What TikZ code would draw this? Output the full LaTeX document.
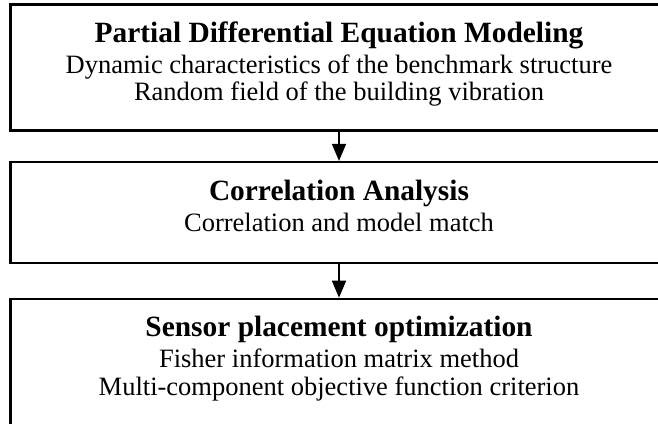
\documentclass[tikz,border=0pt]{standalone}
\usepackage{fontspec}
\setmainfont{Liberation Serif}
\usetikzlibrary{arrows.meta}
\begin{document}
\begin{tikzpicture}[x=1pt,y=1pt,
  boxst/.style={draw=black,line width=2.6pt,rectangle,inner sep=0pt,fill=none},
  ttl/.style={anchor=base,inner sep=0pt,font=\fontsize{29.4}{32}\selectfont\bfseries},
  txt/.style={anchor=base,inner sep=0pt,font=\fontsize{26.5}{30}\selectfont},
  arr/.style={line width=1.6pt,-{Triangle[width=14pt,length=17pt]}}]
\useasboundingbox (0,0) rectangle (658,423);
\clip (0,0) rectangle (658,423);
\fill[white] (0,0) rectangle (658,423);
% boxes (y = 423 - pixel row)
\node[boxst,minimum width=658pt,minimum height=125.5pt] (b1) at (339.5,355.5) {};
\node[boxst,minimum width=658pt,minimum height=101pt] (b2) at (339.5,210.3) {};
\node[boxst,minimum width=658pt,minimum height=200pt] (b3) at (339.5,24) {};
% texts
\node[ttl] (t1) at (339,380) {Partial Differential Equation Modeling};
\node[txt] (t1a) at (339,349.5) {Dynamic characteristics of the benchmark structure};
\node[txt] (t1b) at (339,322) {Random field of the building vibration};
\node[ttl] (t2) at (339,222.3) {Correlation Analysis};
\node[txt] (t2a) at (339,191.3) {Correlation and model match};
\node[ttl] (t3) at (339,86.3) {Sensor placement optimization};
\node[txt] (t3a) at (339,56) {Fisher information matrix method};
\node[txt] (t3b) at (339,28) {Multi-component objective function criterion};
% arrows
\draw[arr] (b1.south -| 339,0) -- (b2.north -| 339,0);
\draw[arr] (b2.south -| 339,0) -- (b3.north -| 339,0);
\end{tikzpicture}
\end{document}
